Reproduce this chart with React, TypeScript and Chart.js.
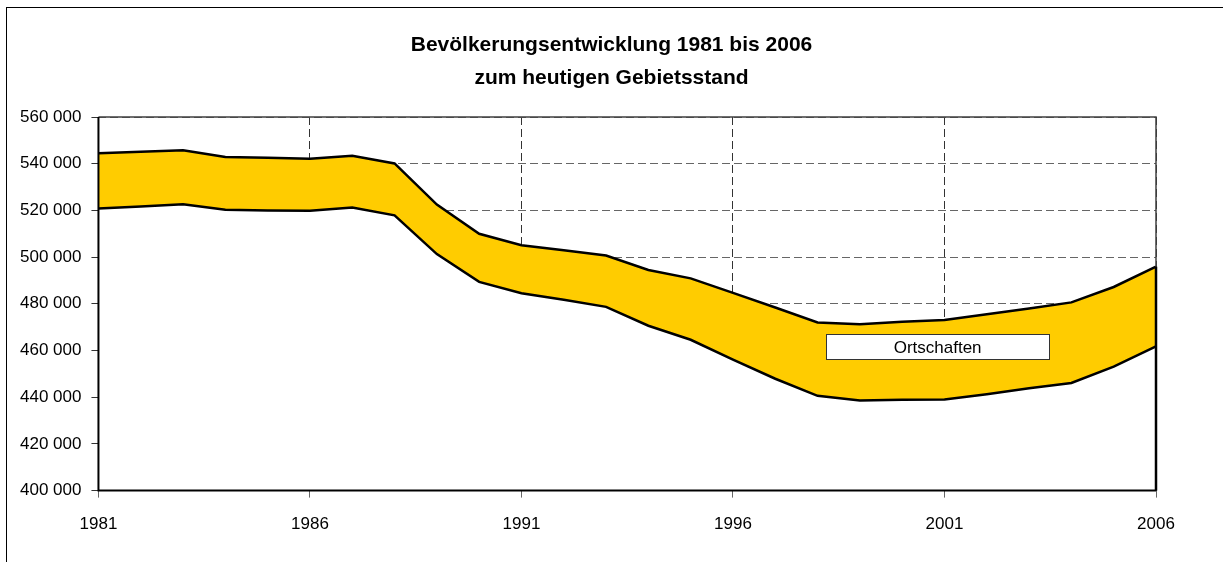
import React, { useEffect, useRef } from "react";
import { Chart, registerables } from "chart.js";

Chart.register(...registerables);

const titleLines = ["Bevölkerungsentwicklung 1981 bis 2006", "zum heutigen Gebietsstand"];

const years = [
  1981, 1982, 1983, 1984, 1985, 1986, 1987, 1988, 1989, 1990, 1991, 1992, 1993,
  1994, 1995, 1996, 1997, 1998, 1999, 2000, 2001, 2002, 2003, 2004, 2005, 2006,
];

const lowerValues = [
  520800, 521700, 522600, 520300, 520000, 519800, 521200, 517900, 501300, 489400,
  484500, 481700, 478700, 470600, 464600, 456100, 447900, 440600, 438600, 438900,
  439000, 441300, 443800, 446100, 453100, 461800,
];

const upperValues = [
  544500, 545100, 545800, 542900, 542500, 542100, 543400, 540100, 522500, 510000,
  505100, 502900, 500700, 494500, 490900, 484700, 478400, 472000, 471200, 472300,
  473100, 475500, 478000, 480600, 487200, 495900,
];

const bandLabel = "Ortschaften";
const lowerLabel = "Gesamt ohne Ortschaften";

const yMin = 400000;
const yMax = 560000;
const yStep = 20000;
const xStep = 5;

const FONT = "'Liberation Sans', Arial, Helvetica, sans-serif";

const fmtThousands = (v: number) =>
  String(Math.round(v)).replace(/\B(?=(\d{3})+(?!\d))/g, " ");

const titlePlugin = {
  id: "centeredTitle",
  afterDraw(chart: any) {
    const { ctx, width } = chart;
    ctx.save();
    ctx.fillStyle = "#000";
    ctx.font = `bold 21px ${FONT}`;
    ctx.textAlign = "center";
    ctx.textBaseline = "middle";
    titleLines.forEach((line, i) => {
      ctx.fillText(line, width / 2, 45 + i * 33.5);
    });
    ctx.restore();
  },
};

const framePlugin = {
  id: "frame",
  afterDatasetsDraw(chart: any) {
    const { ctx, chartArea, scales } = chart;
    const { left, right, top, bottom } = chartArea;
    const yScale = scales.y;
    const upperDs = chart.data.datasets[1];
    const lastPoint = upperDs.data[upperDs.data.length - 1];
    const lastY = yScale.getPixelForValue(lastPoint.y);

    ctx.save();
    ctx.strokeStyle = "#404040";
    ctx.lineWidth = 1.5;
    ctx.setLineDash([]);
    ctx.beginPath();
    ctx.moveTo(left, top);
    ctx.lineTo(right, top);
    ctx.lineTo(right, lastY);
    ctx.stroke();

    ctx.strokeStyle = "#000";
    ctx.lineWidth = 2.5;
    ctx.beginPath();
    ctx.moveTo(right, lastY);
    ctx.lineTo(right, bottom);
    ctx.stroke();

    ctx.lineWidth = 2;
    ctx.beginPath();
    ctx.moveTo(left, top);
    ctx.lineTo(left, bottom);
    ctx.lineTo(right, bottom);
    ctx.stroke();

    const bx0 = left + 0.688 * (right - left);
    const bx1 = left + 0.899 * (right - left);
    const by0 = top + 0.582 * (bottom - top);
    const by1 = top + 0.649 * (bottom - top);
    ctx.fillStyle = "#fff";
    ctx.fillRect(bx0, by0, bx1 - bx0, by1 - by0);
    ctx.strokeStyle = "#333";
    ctx.lineWidth = 1;
    ctx.strokeRect(Math.round(bx0) + 0.5, Math.round(by0) + 0.5, Math.round(bx1 - bx0), Math.round(by1 - by0));
    ctx.fillStyle = "#000";
    ctx.font = `17px ${FONT}`;
    ctx.textAlign = "center";
    ctx.textBaseline = "middle";
    ctx.fillText(upperDs.label, (bx0 + bx1) / 2, (by0 + by1) / 2 + 1);
    ctx.restore();
  },
};

export default function App() {
  const canvasRef = useRef<HTMLCanvasElement | null>(null);

  useEffect(() => {
    const canvas = canvasRef.current;
    if (!canvas) return;
    const lowerData = years.map((yr, i) => ({ x: yr, y: lowerValues[i] }));
    const upperData = years.map((yr, i) => ({ x: yr, y: upperValues[i] }));

    const chart = new Chart(canvas, {
      type: "line",
      data: {
        datasets: [
          {
            label: lowerLabel,
            data: lowerData,
            borderColor: "#000",
            borderWidth: 2.5,
            backgroundColor: "#ffffff",
            fill: "origin",
            pointRadius: 0,
            tension: 0,
          },
          {
            label: bandLabel,
            data: upperData,
            borderColor: "#000",
            borderWidth: 2.5,
            backgroundColor: "#FFCC00",
            fill: "-1",
            pointRadius: 0,
            tension: 0,
          },
        ],
      },
      plugins: [framePlugin, titlePlugin],
      options: {
        responsive: false,
        animation: false,
        devicePixelRatio: 1,
        layout: {
          padding: { left: 10, right: 67, top: 117, bottom: 11 },
        },
        plugins: {
          legend: { display: false },
          tooltip: { enabled: false },
          title: { display: false },
        },
        scales: {
          x: {
            type: "linear",
            min: years[0],
            max: years[years.length - 1],
            border: { display: false, dash: [8, 4] },
            grid: {
              color: "#333",
              lineWidth: 1,
              tickLength: 7,
              tickColor: "#666",
              tickBorderDash: [],
            },
            ticks: {
              stepSize: xStep,
              color: "#000",
              padding: 16.5,
              maxRotation: 0,
              font: { family: FONT, size: 17 },
              callback: (v: any) => String(v),
            },
          },
          y: {
            min: yMin,
            max: yMax,
            border: { display: false, dash: [8, 4] },
            grid: {
              color: "#666",
              lineWidth: 1,
              tickLength: 7,
              tickColor: "#333",
              tickBorderDash: [],
            },
            ticks: {
              stepSize: yStep,
              color: "#000",
              padding: 10,
              font: { family: FONT, size: 17 },
              callback: (v: any) => fmtThousands(Number(v)),
            },
          },
        },
      },
    });
    return () => chart.destroy();
  }, []);

  return (
    <div style={{ position: "absolute", left: 0, top: 0, width: 1223, height: 562, background: "#fff", overflow: "hidden" }}>
      <div
        style={{
          position: "absolute",
          left: 6,
          top: 7,
          width: 1300,
          height: 700,
          borderLeft: "1.5px solid #000",
          borderTop: "1.5px solid #000",
        }}
      />
      <canvas
        ref={canvasRef}
        width={1223}
        height={562}
        style={{ position: "absolute", left: 0, top: 0, width: 1223, height: 562 }}
      />
    </div>
  );
}
